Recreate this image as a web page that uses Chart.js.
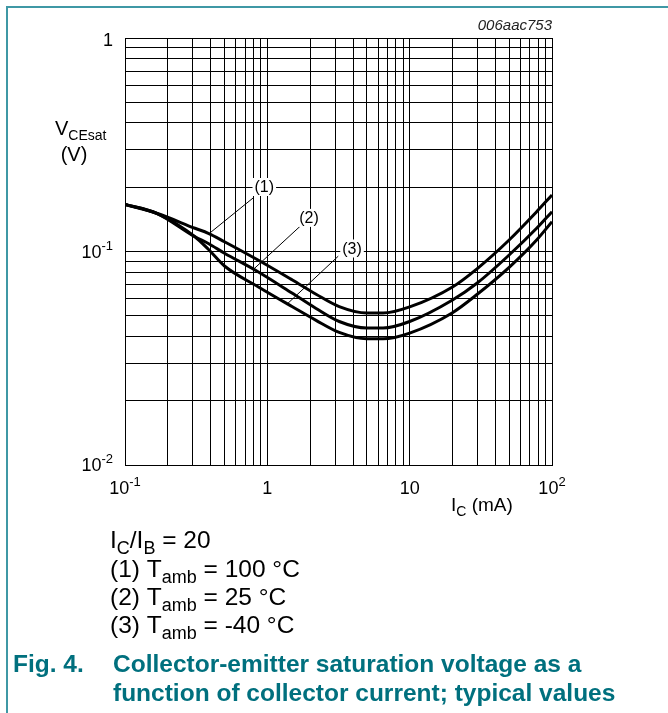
<!DOCTYPE html>
<html>
<head>
<meta charset="utf-8">
<script src="https://cdn.jsdelivr.net/npm/chart.js@4/dist/chart.umd.min.js"></script>
<style>
html,body{margin:0;padding:0;background:#fff;}
#wrap{width:668px;height:713px;}
</style>
</head>
<body>
<div id="wrap"><canvas id="c" width="668" height="713"></canvas></div>
<script>
// Collector current I_C (mA)
const icValues = [0.1, 0.167, 0.31, 0.385, 0.5, 0.86, 1.5, 2.2, 3.2, 5, 6.5, 10, 20, 30, 50, 78, 100];
// V_CEsat (V) for each temperature
const vce100 = [0.1663, 0.151, 0.1285, 0.1217, 0.1111, 0.0912, 0.0735, 0.0631, 0.0552, 0.0515, 0.0515, 0.0550, 0.0682, 0.0834, 0.1132, 0.1536, 0.1839];
const vce25  = [0.1663, 0.151, 0.1173, 0.109, 0.0982, 0.0804, 0.0637, 0.0541, 0.0470, 0.0438, 0.0438, 0.0470, 0.0593, 0.0714, 0.0963, 0.1284, 0.1536];
const vceM40 = [0.1663, 0.151, 0.1173, 0.1024, 0.0855, 0.0684, 0.0551, 0.0476, 0.0418, 0.0390, 0.0390, 0.0415, 0.0517, 0.0632, 0.0843, 0.1132, 0.1379];

// grid / tick values
const xGridTicks = [0.1,0.2,0.3,0.4,0.5,0.6,0.7,0.8,0.9,1,2,3,4,5,6,7,8,9,10,20,30,40,50,60,70,80,90,100];
const yGridTicks = [0.01,0.02,0.03,0.04,0.05,0.06,0.07,0.08,0.09,0.1,0.2,0.3,0.4,0.5,0.6,0.7,0.8,0.9,1];
const xLabelValues = [0.1, 1, 10, 100];
const xLabelBase = ['10', '1', '10', '10'];
const xLabelExp  = ['-1', '', '', '2'];
const yLabelValues = [1, 0.1, 0.01];
const yLabelBase = ['1', '10', '10'];
const yLabelExp  = ['', '-1', '-2'];

// curve labels and their leader lines (data coordinates)
const curveLabelText = ['(1)', '(2)', '(3)'];
const curveLabelPos  = [[0.952, 0.2005], [1.963, 0.1437], [3.935, 0.1033]];
const leaderFrom = [[0.80, 0.1788], [1.70, 0.1313], [3.15, 0.0951]];
const leaderTo   = [[0.396, 0.1223], [0.797, 0.0824], [1.368, 0.0565]];

const FONT = '"Liberation Sans", Arial, Helvetica, sans-serif';

function mk(ys){ return icValues.map((x,i)=>({x:x, y:ys[i]})); }

function drawRich(ctx, parts, x, y, align, size, color, bold){
  const subSize = Math.round(size*0.72);
  const w = parts.map(p=>{
    ctx.font = (bold?'bold ':'') + (p.s ? subSize : size) + 'px ' + FONT;
    return ctx.measureText(p.t).width;
  });
  const total = w.reduce((a,b)=>a+b,0);
  let cx = align==='right' ? x-total : align==='center' ? x-total/2 : x;
  ctx.fillStyle = color;
  ctx.textBaseline = 'alphabetic';
  ctx.textAlign = 'left';
  parts.forEach((p,i)=>{
    const sz = p.s ? subSize : size;
    ctx.font = (bold?'bold ':'') + sz + 'px ' + FONT;
    let dy = 0;
    if (p.s==='sup') dy = -size*0.42;
    if (p.s==='sub') dy = size*0.25;
    ctx.fillText(p.t, cx, y+dy);
    cx += w[i];
  });
}

const decor = {
  id:'decor',
  beforeDraw(chart){
    const ctx = chart.ctx;
    ctx.save();
    ctx.fillStyle = '#fff';
    ctx.fillRect(0,0,chart.width,chart.height);
    ctx.strokeStyle = '#3f98a5';
    ctx.lineWidth = 2;
    ctx.beginPath();
    ctx.moveTo(7, 713); ctx.lineTo(7, 7); ctx.lineTo(668, 7);
    ctx.stroke();
    ctx.restore();
  },
  afterDatasetsDraw(chart){
    const ctx = chart.ctx;
    const xs = chart.scales.x, ys = chart.scales.y;
    ctx.save();
    ctx.strokeStyle = '#000';
    ctx.lineWidth = 1;
    for (let i=0;i<curveLabelText.length;i++){
      ctx.beginPath();
      ctx.moveTo(xs.getPixelForValue(leaderFrom[i][0]), ys.getPixelForValue(leaderFrom[i][1]));
      ctx.lineTo(xs.getPixelForValue(leaderTo[i][0]), ys.getPixelForValue(leaderTo[i][1]));
      ctx.stroke();
    }
    ctx.font = '16px ' + FONT;
    for (let i=0;i<curveLabelText.length;i++){
      const px = xs.getPixelForValue(curveLabelPos[i][0]);
      const py = ys.getPixelForValue(curveLabelPos[i][1]);
      const w = ctx.measureText(curveLabelText[i]).width;
      ctx.fillStyle = '#fff';
      ctx.fillRect(px-w/2-2, py-9, w+4, 18);
      ctx.fillStyle = '#000';
      ctx.textAlign = 'center';
      ctx.textBaseline = 'middle';
      ctx.fillText(curveLabelText[i], px, py+1);
    }
    ctx.restore();
  },
  afterDraw(chart){
    const ctx = chart.ctx;
    const xs = chart.scales.x, ys = chart.scales.y;
    const ca = chart.chartArea;
    ctx.save();
    ctx.font = 'italic 15px ' + FONT;
    ctx.fillStyle = '#222';
    ctx.textAlign = 'right';
    ctx.textBaseline = 'alphabetic';
    ctx.fillText('006aac753', ca.right, 30);
    for (let i=0;i<yLabelValues.length;i++){
      const py = ys.getPixelForValue(yLabelValues[i]);
      const parts = [{t:yLabelBase[i]}];
      if (yLabelExp[i]) parts.push({t:yLabelExp[i], s:'sup'});
      drawRich(ctx, parts, ca.left-12, py + (i===0 ? 8 : 6), 'right', 18, '#000');
    }
    for (let i=0;i<xLabelValues.length;i++){
      const px = xs.getPixelForValue(xLabelValues[i]);
      const parts = [{t:xLabelBase[i]}];
      if (xLabelExp[i]) parts.push({t:xLabelExp[i], s:'sup'});
      drawRich(ctx, parts, px, ca.bottom+29, 'center', 18, '#000');
    }
    drawRich(ctx, [{t:'V'},{t:'CEsat',s:'sub'}], 55, 135, 'left', 20, '#000');
    drawRich(ctx, [{t:'(V)'}], 74, 161, 'center', 20, '#000');
    drawRich(ctx, [{t:'I'},{t:'C',s:'sub'},{t:' (mA)'}], 451, 511, 'left', 19, '#000');
    const L = 110, FS = 24.5;
    drawRich(ctx, [{t:'I'},{t:'C',s:'sub'},{t:'/I'},{t:'B',s:'sub'},{t:' = 20'}], L, 548, 'left', FS, '#000');
    drawRich(ctx, [{t:'(1) T'},{t:'amb',s:'sub'},{t:' = 100 °C'}], L, 577, 'left', FS, '#000');
    drawRich(ctx, [{t:'(2) T'},{t:'amb',s:'sub'},{t:' = 25 °C'}], L, 605, 'left', FS, '#000');
    drawRich(ctx, [{t:'(3) T'},{t:'amb',s:'sub'},{t:' = -40 °C'}], L, 633, 'left', FS, '#000');
    const teal = '#00707e';
    drawRich(ctx, [{t:'Fig. 4.'}], 13, 672, 'left', FS, teal, true);
    drawRich(ctx, [{t:'Collector-emitter saturation voltage as a'}], 113, 672, 'left', FS, teal, true);
    drawRich(ctx, [{t:'function of collector current; typical values'}], 113, 701, 'left', FS, teal, true);
    ctx.restore();
  }
};

function setTicks(list){ return function(scale){ scale.ticks = list.map(v=>({value:v})); }; }

const common = {
  borderColor:'#000', borderWidth:3, pointRadius:0, fill:false,
  cubicInterpolationMode:'monotone'
};

new Chart(document.getElementById('c'), {
  type:'line',
  data:{
    datasets:[
      Object.assign({label:'Tamb = 100 °C', data:mk(vce100)}, common),
      Object.assign({label:'Tamb = 25 °C', data:mk(vce25)}, common),
      Object.assign({label:'Tamb = -40 °C', data:mk(vceM40)}, common)
    ]
  },
  options:{
    responsive:false,
    animation:false,
    devicePixelRatio:1,
    layout:{padding:{left:125, right:116, top:38, bottom:248}},
    plugins:{legend:{display:false}, tooltip:{enabled:false}, title:{display:false}},
    scales:{
      x:{
        type:'logarithmic', min:0.1, max:100,
        afterBuildTicks:setTicks(xGridTicks),
        ticks:{display:false},
        grid:{color:'#000', lineWidth:1, drawTicks:false},
        border:{display:true, color:'#000', width:1}
      },
      y:{
        type:'logarithmic', min:0.01, max:1,
        afterBuildTicks:setTicks(yGridTicks),
        ticks:{display:false},
        grid:{color:'#000', lineWidth:1, drawTicks:false},
        border:{display:true, color:'#000', width:1}
      }
    }
  },
  plugins:[decor]
});
</script>
</body>
</html>
